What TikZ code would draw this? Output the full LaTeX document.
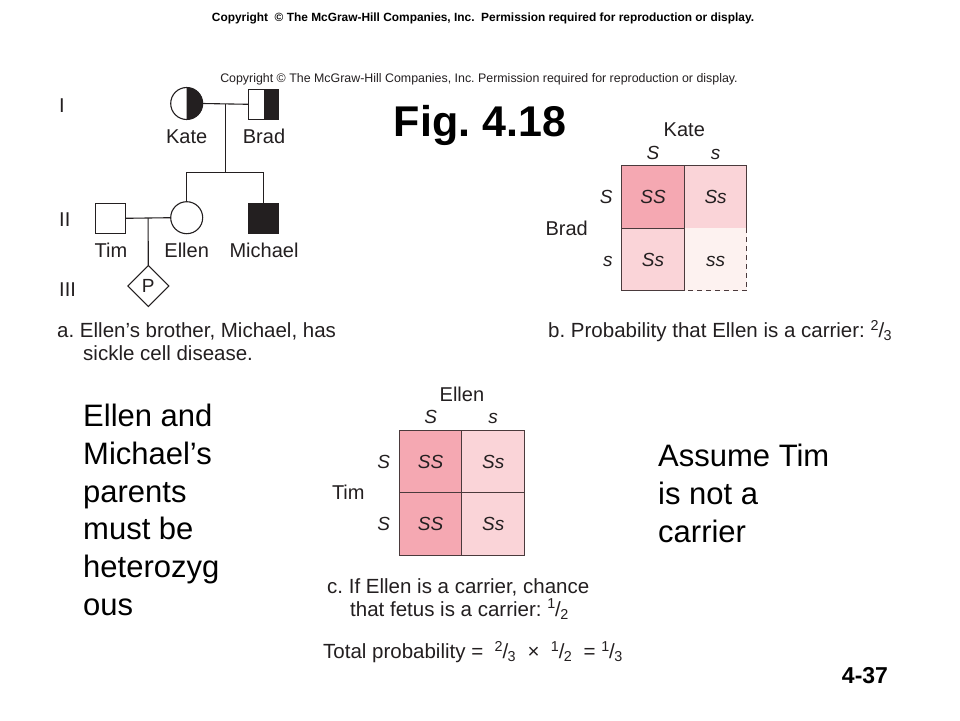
\documentclass[tikz,border=0pt]{standalone}
\usepackage{fontspec}
\setmainfont{Liberation Sans}
\usetikzlibrary{positioning,calc,shapes.geometric}

\definecolor{ink}{HTML}{231F20}
\definecolor{gridline}{HTML}{4A3A3C}
\definecolor{pinkSS}{HTML}{F5A8B2}
\definecolor{pinkSs}{HTML}{FAD4D8}
\definecolor{pinkss}{HTML}{FDF2F0}

\newcommand{\frc}[2]{\textsuperscript{#1}\kern-.03em/\kern-.03em\textsubscript{#2}}

\tikzset{
  lbl/.style={font=\fontsize{20}{23}\selectfont, text=ink, inner sep=1pt, text height=14.4pt, text depth=0pt},
  capline/.style={font=\fontsize{20.5}{24}\selectfont, text=ink, inner sep=0pt, anchor=west},
  allele/.style={font=\itshape\fontsize{19}{22}\selectfont, text=ink, inner sep=1pt, text height=13.6pt, text depth=0pt},
  big/.style={font=\fontsize{31}{37.7}\selectfont, align=left, inner sep=0pt},
  cell/.style={minimum size=62.6pt, inner sep=0pt, outer sep=0pt, draw=gridline,
    line width=1pt, font=\itshape\fontsize{19}{22}\selectfont, text=ink, text height=13.6pt, text depth=0pt},
  female/.style={circle, draw=ink, line width=1.1pt, minimum size=32pt, inner sep=0pt, outer sep=0pt},
  male/.style={rectangle, draw=ink, line width=1.1pt, minimum size=30pt, inner sep=0pt, outer sep=0pt},
  fetus/.style={diamond, draw=ink, line width=1.1pt, minimum size=41pt, inner sep=0pt, outer sep=0pt,
    font=\fontsize{19}{22}\selectfont, text=ink},
  rel/.style={ink, line width=1.1pt}
}

\begin{document}
\frenchspacing
\begin{tikzpicture}[x=1pt, y=-1pt]
    \useasboundingbox[fill=white] (0,0) rectangle (960,720);

    % headers
    \node[font=\bfseries\fontsize{11.9}{14}\selectfont] (copy1) at (483,18)
      {Copyright\ \ © The McGraw-Hill Companies, Inc.\ \ Permission required for reproduction or display.};
    \node[font=\fontsize{12.4}{14}\selectfont, text=ink] (copy2) at (479,79)
      {Copyright © The McGraw-Hill Companies, Inc. Permission required for reproduction or display.};
    \node[font=\bfseries\fontsize{43}{50}\selectfont] (title) at (480,125) {Fig. 4.18};

    % pedigree
    \node[female] (kate) at (186.7,103.5) {};
    \fill[ink] (kate.north) arc[start angle=90, end angle=-90, radius=16pt] -- cycle;
    \node[male] (brad) at (263.7,104.3) {};
    \fill[ink] (brad.north) rectangle (brad.south east);
    \node[female] (ellen) at (186.7,217.7) {};
    \node[male, fill=ink] (michael) at (263.7,218.3) {};
    \node[male] (tim) at (110.5,218.3) {};
    \node[fetus] (fetal) at (148.3,286) {P};

    \node[lbl] at (186.7,136) {Kate};
    \node[lbl] at (264,136) {Brad};
    \node[lbl] at (111,250) {Tim};
    \node[lbl] at (186.7,250) {Ellen};
    \node[lbl] at (264,250) {Michael};

    \node[lbl, anchor=west] (gen1) at (58,105) {I};
    \node[lbl, anchor=west] (gen2) at (58,219) {II};
    \node[lbl, anchor=west] (gen3) at (58,289) {III};

    \coordinate (kb) at ($(kate.east)!0.5!(brad.west)$);
    \coordinate (sib) at (kb |- 0,172.3);
    \coordinate (te) at ($(tim.east)!0.5!(ellen.west)$);
    \draw[rel] (kate.east) -- (brad.west);
    \draw[rel] (kb) -- (sib);
    \draw[rel] (ellen.north) |- (sib) -| (michael.north);
    \draw[rel] (tim.east) -- (ellen.west);
    \draw[rel] (te) -- (fetal.north);

    \node[capline] (capa1) at (57,331) {a. Ellen’s brother, Michael, has};
    \node[capline] (capa2) at (83,353) {sickle cell disease.};

    % Punnett square b
    \node[cell, fill=pinkSS] (bSS) at (653,197) {SS};
    \node[cell, fill=pinkSs, right=0pt of bSS] (bSs) {Ss};
    \node[cell, fill=pinkSs, below=0pt of bSS] (bsS) {Ss};
    \node[cell, fill=pinkss, draw=none, right=0pt of bsS] (bss) {ss};
    \draw[gridline, line width=1pt, dashed, dash pattern=on 5pt off 4pt]
      (bss.north east) -- (bss.south east) -- (bss.south west);
    \draw[gridline, line width=1pt] (bsS.north east) -- (bsS.south east);

    \node[allele, above=5pt of bSS] {S};
    \node[allele, above=5pt of bSs] {s};
    \node[allele, left=8pt of bSS] {S};
    \node[allele, left=8pt of bsS] {s};
    \node[lbl] (bKate) at ($(bSS.north east)+(0,-36)$) {Kate};
    \node[lbl] (bBrad) at ($(bSS.south west)+(-55,0)$) {Brad};

    \node[capline] (capb) at (548,331) {b. Probability that Ellen is a carrier: \frc{2}{3}};

    % Punnett square c
    \node[cell, fill=pinkSS] (cSS) at (430.6,461.3) {SS};
    \node[cell, fill=pinkSs, right=0pt of cSS] (cSs) {Ss};
    \node[cell, fill=pinkSS, below=0pt of cSS] (cSS2) {SS};
    \node[cell, fill=pinkSs, right=0pt of cSS2] (cSs2) {Ss};

    \node[allele, above=5pt of cSS] {S};
    \node[allele, above=5pt of cSs] {s};
    \node[allele, left=8pt of cSS] {S};
    \node[allele, left=8pt of cSS2] {S};
    \node[lbl] (cEllen) at ($(cSS.north east)+(0,-36)$) {Ellen};
    \node[lbl] (cTim) at ($(cSS.south west)+(-51,0)$) {Tim};

    \node[capline] (capc1) at (327,587) {c. If Ellen is a carrier, chance};
    \node[capline] (capc2) at (350,609) {that fetus is a carrier: \frc{1}{2}};
    \node[capline] (total) at (323,652)
      {Total probability = \ \frc{2}{3} \ × \ \frc{1}{2} \ = \frc{1}{3}};

    % side notes
    \node[big, anchor=north west] (note1) at (83,404)
      {Ellen and\\Michael’s\\parents\\must be\\heterozyg\\ous};
    \node[big, anchor=north west] (note2) at (658,444)
      {Assume Tim\\is not a\\carrier};

    \node[font=\bfseries\fontsize{23}{27}\selectfont] (slide) at (865,676) {4-37};

  \end{tikzpicture}
\end{document}
